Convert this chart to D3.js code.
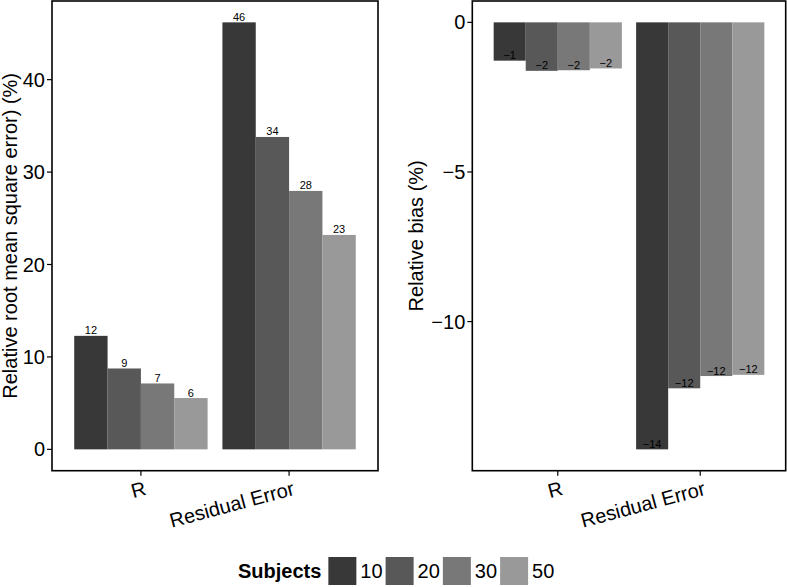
<!DOCTYPE html>
<html><head><meta charset="utf-8">
<script src="https://cdn.jsdelivr.net/npm/d3@7"></script>
<style>
html,body{margin:0;padding:0;background:#fff;}
svg{display:block;font-family:"Liberation Sans",Arial,sans-serif;}
</style></head>
<body>
<svg id="chart" width="787" height="587"></svg>
<script>
const categories = ["R", "Residual Error"];
const subjects = ["10", "20", "30", "50"];
const colors = ["#383838", "#585858", "#787878", "#999999"];
// Relative RMSE (%) by category, per subject count
const rmseR = [12.28, 8.75, 7.13, 5.55];
const rmseRE = [46.2, 33.8, 27.96, 23.2];
// Relative bias (%)
const biasR = [-1.28, -1.62, -1.60, -1.54];
const biasRE = [-14.27, -12.23, -11.82, -11.78];
const rmseTicks = [0, 10, 20, 30, 40];
const biasTicks = [0, -5, -10];
const rmseTitle = "Relative root mean square error) (%)";
const biasTitle = "Relative bias (%)";
const legendTitle = "Subjects";

const svg = d3.select("#chart");
const fmt = v => { const r = Math.round(v); return r < 0 ? "\u2212" + Math.abs(r) : String(r); };

function panel(cfg) {
  const {x0, x1, y0, y1, series, ticks, title, titleX} = cfg;
  const all = series.flat();
  const lo = Math.min(0, d3.min(all)), hi = Math.max(0, d3.max(all));
  const ex = (hi - lo) * 0.05;
  const y = d3.scaleLinear().domain([lo - ex, hi + ex]).range([y1, y0]);
  const x = d3.scaleBand().domain(categories).range([x0, x1]).paddingInner(0.1).paddingOuter(0.15);
  const xs = d3.scaleBand().domain(subjects).range([0, x.bandwidth()]).padding(0);
  const g = svg.append("g");
  const rows = [];
  categories.forEach((c, ci) => series[ci].forEach((v, si) => rows.push({c, s: subjects[si], v, si})));
  g.selectAll("rect.bar").data(rows).enter().append("rect").attr("class", "bar")
    .attr("x", d => x(d.c) + xs(d.s))
    .attr("width", xs.bandwidth())
    .attr("y", d => Math.min(y(d.v), y(0)))
    .attr("height", d => Math.abs(y(d.v) - y(0)))
    .attr("fill", d => colors[d.si]);
  g.selectAll("text.lab").data(rows).enter().append("text").attr("class", "lab")
    .attr("x", d => x(d.c) + xs(d.s) + xs.bandwidth() / 2)
    .attr("y", d => y(d.v) - 1.5)
    .attr("text-anchor", "middle")
    .attr("font-size", 11)
    .attr("fill", "#000")
    .text(d => fmt(d.v));
  // border
  g.append("rect").attr("x", x0).attr("y", y0).attr("width", x1 - x0).attr("height", y1 - y0)
    .attr("fill", "none").attr("stroke", "#000").attr("stroke-width", 1.6);
  // y ticks
  const yt = g.append("g");
  ticks.forEach(t => {
    yt.append("line").attr("x1", x0 - 5).attr("x2", x0).attr("y1", y(t)).attr("y2", y(t))
      .attr("stroke", "#000").attr("stroke-width", 1.2);
    yt.append("text").attr("x", x0 - 7).attr("y", y(t)).attr("dy", "0.35em")
      .attr("text-anchor", "end").attr("font-size", 20).attr("fill", "#000")
      .text(fmt(t));
  });
  // x ticks
  categories.forEach(c => {
    const cx = x(c) + x.bandwidth() / 2;
    g.append("line").attr("x1", cx).attr("x2", cx).attr("y1", y1).attr("y2", y1 + 5)
      .attr("stroke", "#000").attr("stroke-width", 1.2);
    g.append("text").attr("text-anchor", "end").attr("font-size", 20).attr("fill", "#000")
      .attr("dy", "0.72em")
      .attr("transform", `translate(${cx + 2.5},${y1 + 10}) rotate(-15)`)
      .text(c);
  });
  // y title
  g.append("text").attr("transform", `translate(${titleX},${(y0 + y1) / 2}) rotate(-90)`)
    .attr("text-anchor", "middle").attr("font-size", 20).attr("fill", "#000").text(title);
}

panel({x0: 52, x1: 378, y0: 1, y1: 470.7, series: [rmseR, rmseRE], ticks: rmseTicks, title: rmseTitle, titleX: 17});
panel({x0: 472.3, x1: 785.7, y0: 1, y1: 470.7, series: [biasR, biasRE], ticks: biasTicks, title: biasTitle, titleX: 423});

// legend
const lg = svg.append("g");
const ly = 571;
const t = lg.append("text").attr("x", 238).attr("y", ly).attr("dy", "0.35em")
  .attr("font-size", 20).attr("font-weight", "bold").attr("fill", "#000").text(legendTitle);
let cx = 238 + t.node().getComputedTextLength() + 7;
subjects.forEach((s, i) => {
  lg.append("rect").attr("x", cx).attr("y", ly - 14).attr("width", 28).attr("height", 28).attr("fill", colors[i]);
  const tt = lg.append("text").attr("x", cx + 32).attr("y", ly).attr("dy", "0.35em")
    .attr("font-size", 20).attr("fill", "#000").text(s);
  cx = cx + 32 + tt.node().getComputedTextLength() + 3;
});
</script>
</body></html>
